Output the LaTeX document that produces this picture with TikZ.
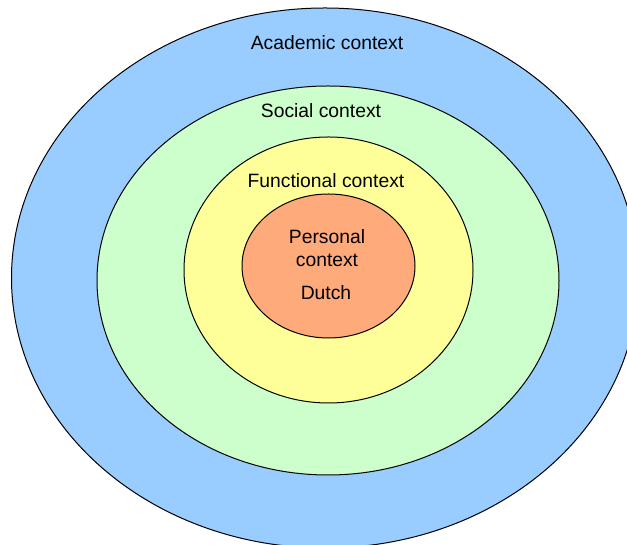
\documentclass[tikz,border=0pt]{standalone}
\usepackage{fontspec}
\setmainfont{Liberation Sans}
\usetikzlibrary{shapes.geometric}
\definecolor{academic}{HTML}{99CCFF}
\definecolor{social}{HTML}{CCFFCC}
\definecolor{functional}{HTML}{FFFF99}
\definecolor{personal}{RGB}{255,170,122}
\tikzset{
  ring/.style = {draw=black, line width=1pt},
  lbl/.style = {font=\fontsize{19.3}{23}\selectfont, inner sep=0pt, align=center}
}
\begin{document}
\begin{tikzpicture}[x=1pt, y=1pt]
            \clip (0,0) rectangle (627,545);
            \fill[white] (0,0) rectangle (627,545);
            % rings, outside in
            \filldraw[ring, fill=academic] (325,267) ellipse [x radius=313.5, y radius=270];
            \filldraw[ring, fill=social] (328,264.5) ellipse [x radius=231, y radius=194.5];
            \filldraw[ring, fill=functional] (328.5,275) ellipse [x radius=144.5, y radius=133];
            \filldraw[ring, fill=personal] (328.5,279) ellipse [x radius=86.5, y radius=72];
            % labels
            \node[lbl] (academic) at (327,502) {Academic context};
            \node[lbl] (social) at (321,434) {Social context};
            \node[lbl] (functional) at (326,364) {Functional context};
            \node[lbl] (personal) at (327,296.5) {Personal\\context};
            \node[lbl] (dutch) at (326,252) {Dutch};
          \end{tikzpicture}
\end{document}
